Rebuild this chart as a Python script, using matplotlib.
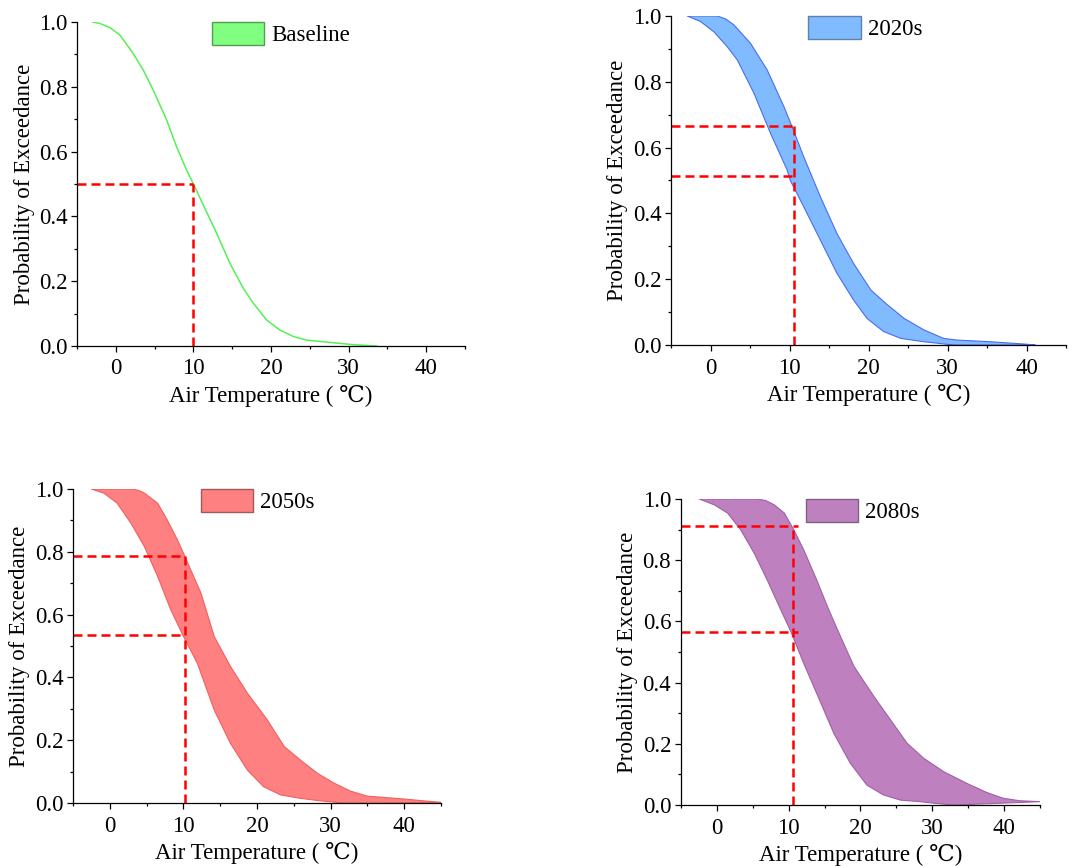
import numpy as np
import matplotlib.pyplot as plt
from matplotlib.patches import Patch
from matplotlib.ticker import MultipleLocator

plt.rcParams['font.family'] = ['Liberation Serif', 'DejaVu Serif']
plt.rcParams['font.size'] = 16.5

# baseline exceedance curve
base_t = [-3.0, -2.06, -0.77, 0.52, 2.24, 3.53, 4.82, 6.54, 7.83, 9.12, 10.0, 11.27, 12.99,
          14.71, 16.43, 17.72, 19.44, 21.16, 22.9, 24.6, 28.0, 30.6, 33.6]
base_p = [1.0, 0.996, 0.983, 0.96, 0.903, 0.852, 0.79, 0.698, 0.615, 0.543, 0.5, 0.435, 0.348,
          0.255, 0.178, 0.132, 0.08, 0.049, 0.029, 0.018, 0.010, 0.004, 0.0]

# 2020s envelope
t20_hi = [0.8, 1.9, 2.95, 5.06, 7.17, 9.3, 10.5, 11.8, 13.9, 16.0, 18.1, 20.3, 22.4, 24.5, 27.0, 29.5, 31.2, 35.4, 39.7, 41.1]
p20_hi = [1.0, 0.991, 0.973, 0.917, 0.836, 0.724, 0.653, 0.572, 0.451, 0.339, 0.248, 0.167, 0.122, 0.081, 0.046, 0.020, 0.015, 0.010, 0.003, 0.0]
t20_lo = [-2.95, -1.27, 0.42, 2.1, 3.4, 5.5, 7.6, 9.7, 10.1, 11.8, 13.9, 16.0, 18.1, 19.8, 21.9, 24.1, 27.0, 30.0, 31.2]
p20_lo = [1.0, 0.983, 0.952, 0.907, 0.866, 0.765, 0.643, 0.532, 0.50, 0.42, 0.319, 0.218, 0.137, 0.081, 0.041, 0.020, 0.010, 0.002, 0.0]

# 2050s envelope
t50_hi = [3.1, 4.0, 4.7, 6.5, 7.8, 9.2, 10.1, 12.4, 14.2, 16.4, 18.7, 21.4, 23.7, 25.9, 28.2, 30.5, 32.7, 35.0, 37.2, 40.4, 43.1, 45.2]
p50_hi = [1.0, 0.995, 0.987, 0.955, 0.902, 0.838, 0.791, 0.668, 0.53, 0.435, 0.35, 0.265, 0.18, 0.137, 0.095, 0.063, 0.038, 0.022, 0.018, 0.012, 0.006, 0.002]
t50_lo = [-2.5, -0.8, 1.0, 2.85, 4.7, 6.5, 8.3, 9.9, 11.9, 14.2, 16.4, 18.7, 20.9, 23.2, 25.9, 28.6, 30.9, 31.8]
p50_lo = [1.0, 0.987, 0.955, 0.892, 0.817, 0.722, 0.615, 0.536, 0.445, 0.296, 0.19, 0.105, 0.052, 0.026, 0.015, 0.007, 0.002, 0.0]

# 2080s envelope
t80_hi = [5.6, 6.8, 8.0, 9.4, 10.7, 12.1, 13.9, 15.4, 16.8, 19.1, 21.9, 24.2, 26.5, 28.8, 31.6, 34.8, 37.6, 39.9, 42.2, 45.1]
p80_hi = [1.0, 0.995, 0.981, 0.954, 0.90, 0.834, 0.736, 0.649, 0.573, 0.453, 0.354, 0.278, 0.202, 0.153, 0.109, 0.071, 0.041, 0.022, 0.014, 0.011]
t80_lo = [-2.45, -0.37, 1.5, 3.3, 5.2, 7.0, 8.9, 10.3, 12.1, 13.9, 16.3, 18.6, 20.9, 23.2, 25.6, 28.3, 30.6, 33.0]
p80_lo = [1.0, 0.981, 0.954, 0.90, 0.823, 0.736, 0.638, 0.567, 0.463, 0.365, 0.234, 0.136, 0.065, 0.033, 0.016, 0.011, 0.005, 0.0]

# reference temperature and probabilities marked on each panel
ref_t = [10.0, 10.6, 10.2, 10.6]
ref_p = [[0.5], [0.667, 0.513], [0.787, 0.536], [0.911, 0.564]]
hline_end = [10.0, 10.6, 10.2, 11.3]

labels = ['Baseline', '2020s', '2050s', '2080s']
fills = ['#80FF80', '#80BBFF', '#FF8080', '#BF80BF']
edges = ['#40E040', '#4A6CF0', '#F06060', '#A060A8']
patch_edges = ['#50A050', '#6080B0', '#A05858', '#806080']

positions = [
    [0.072, 0.6005, 0.3626, 0.374],
    [0.6271, 0.6016, 0.3692, 0.380],
    [0.0682, 0.0727, 0.3439, 0.3626],
    [0.6364, 0.0704, 0.3355, 0.3534],
]

bands = [
    None,
    (t20_hi, p20_hi, t20_lo, p20_lo),
    (t50_hi, p50_hi, t50_lo, p50_lo),
    (t80_hi, p80_hi, t80_lo, p80_lo),
]

fig = plt.figure(figsize=(10.7, 8.66), dpi=100)

for i in range(4):
    ax = fig.add_axes(positions[i])
    if bands[i] is None:
        ax.plot(base_t, base_p, color='#55F055', lw=1.1, solid_joinstyle='round')
    else:
        th, ph, tl, pl = bands[i]
        ax.fill(np.r_[th, tl[::-1]], np.r_[ph, pl[::-1]],
                facecolor=fills[i], edgecolor=edges[i], lw=0.8, joinstyle='round')

    for p in ref_p[i]:
        ax.plot([-5, hline_end[i]], [p, p], color='red', lw=1.8, dashes=(3.6, 2))
    ax.plot([ref_t[i], ref_t[i]], [0, max(ref_p[i])], color='red', lw=1.8, dashes=(3.6, 2))

    ax.set_xlim(-5, 45)
    ax.set_ylim(0, 1.0)
    ax.xaxis.set_major_locator(MultipleLocator(10))
    ax.xaxis.set_minor_locator(MultipleLocator(5))
    ax.yaxis.set_major_locator(MultipleLocator(0.2))
    ax.yaxis.set_minor_locator(MultipleLocator(0.1))
    ax.yaxis.set_major_formatter(plt.FormatStrFormatter('%.1f'))
    ax.spines['top'].set_visible(False)
    ax.spines['right'].set_visible(False)
    for s in ['left', 'bottom']:
        ax.spines[s].set_linewidth(0.9)
    ax.tick_params(which='major', length=4, width=0.9, direction='out', pad=3)
    ax.tick_params(axis='x', which='major', pad=5)
    ax.tick_params(which='minor', length=2.5, width=0.9, direction='out')
    ax.set_xlabel('Air Temperature ( ℃)', labelpad=4)
    ax.set_ylabel('Probability of Exceedance', labelpad=3)

    handle = Patch(facecolor=fills[i], edgecolor=patch_edges[i], lw=1)
    ax.legend([handle], [labels[i]], loc='upper left', bbox_to_anchor=(0.347, 1.0),
              frameon=False, borderpad=0, borderaxespad=0, handlelength=2.3,
              handleheight=1.15, handletextpad=0.3)

fig.savefig('out.png', dpi=100)
